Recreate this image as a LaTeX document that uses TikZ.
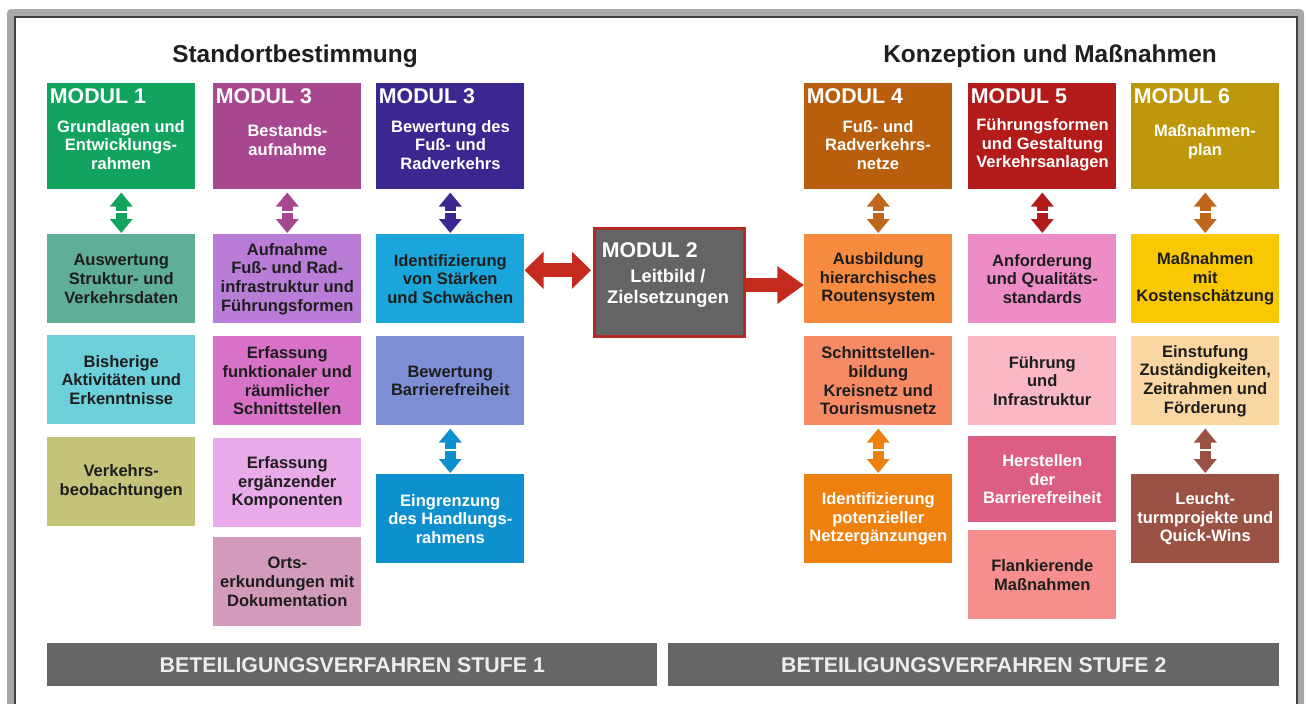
\documentclass[tikz,border=0pt]{standalone}
\usepackage{fontspec}
\setmainfont{Liberation Sans}
\usetikzlibrary{arrows.meta,calc}

\definecolor{ink}{HTML}{1E1E1E}
\definecolor{frameg}{HTML}{A8A8A8}
\definecolor{framed}{HTML}{404040}
\definecolor{barg}{HTML}{666666}
\definecolor{arrowred}{HTML}{C42A1E}
% Standortbestimmung
\definecolor{gTop}{HTML}{12A35F}
\definecolor{gA}{HTML}{5FAE98}
\definecolor{gB}{HTML}{6DD0DA}
\definecolor{gC}{HTML}{C5C27A}
\definecolor{pTop}{HTML}{A7478F}
\definecolor{pA}{HTML}{B97DD8}
\definecolor{pB}{HTML}{D872C8}
\definecolor{pC}{HTML}{E8AAE8}
\definecolor{pD}{HTML}{D29BBB}
\definecolor{vTop}{HTML}{3C2690}
\definecolor{vA}{HTML}{1AA6DA}
\definecolor{vB}{HTML}{7E8ED4}
\definecolor{vC}{HTML}{0F90CE}
% Konzeption und Massnahmen
\definecolor{mTwo}{HTML}{646464}
\definecolor{mTwoRim}{HTML}{B22A20}
\definecolor{oTop}{HTML}{B85E0C}
\definecolor{oA}{HTML}{F68A3E}
\definecolor{oB}{HTML}{F58A64}
\definecolor{oC}{HTML}{EE8010}
\definecolor{rTop}{HTML}{B31B1B}
\definecolor{rA}{HTML}{EE8CC6}
\definecolor{rB}{HTML}{FAB8C6}
\definecolor{rC}{HTML}{DC5E82}
\definecolor{rD}{HTML}{F68E8E}
\definecolor{yTop}{HTML}{BC980A}
\definecolor{yA}{HTML}{F9C802}
\definecolor{yB}{HTML}{FAD7A2}
\definecolor{yC}{HTML}{9A5244}
\definecolor{oLink}{HTML}{C0661A}

\begin{document}
\begin{tikzpicture}[x=0.75pt, y=-0.75pt,
box/.style={anchor=north west, minimum width=111pt, minimum height=66.75pt, inner sep=0pt, align=center, text=ink, font=\fontsize{12.4}{14}\selectfont\bfseries},
top/.style={box, minimum height=79.5pt},
modl/.style={anchor=north west, inner sep=0pt, text=white, font=\fontsize{16}{18}\selectfont\bfseries},
desc/.style={inner sep=0pt, align=center, text=white, font=\fontsize{12.4}{14}\selectfont\bfseries},
head/.style={anchor=base, inner sep=0pt, text=ink, font=\fontsize{18.3}{20}\selectfont\bfseries},
bar/.style={anchor=north west, minimum height=32.25pt, inner sep=0pt, fill=barg, text=white!93!black, font=\fontsize{16}{18}\selectfont\bfseries},
vlink/.style={line width=8.5pt, {Triangle[length=10.5pt,width=16.5pt]}-{Triangle[length=10.5pt,width=16.5pt]}, shorten <=2.25pt, shorten >=0.75pt},
cut/.style={white, line width=1.2pt},
bigarr/.style={draw=arrowred, line width=10.5pt}]
\useasboundingbox (0,0) rectangle (1306,703);
\clip (0,0) rectangle (1306,703);
% frame
\fill[frameg, rounded corners=3pt] (7,9) rectangle (1304,760);
\fill[white] (14,16) rectangle (1298,760);
\draw[framed, line width=0.9pt] (15,17) rectangle (1297,760);

\node[head] (t1) at (295,62) {Standortbestimmung};
\node[head] (t2) at (1050,62) {Konzeption und Maßnahmen};

% Modul 1
\node[top, fill=gTop] (m1) at (47,83) {};
\node[modl] (m1l) at ([shift={(2pt,-3.75pt)}]m1.north west) {MODUL 1};
\node[desc] (m1d) at (121,145) {Grundlagen und\\Entwicklungs-\\rahmen};
\node[box, fill=gA] (a1) at (47,234) {Auswertung\\Struktur- und\\Verkehrsdaten};
\node[box, fill=gB] (b1) at (47,335) {Bisherige\\Aktivitäten und\\Erkenntnisse};
\node[box, fill=gC] (c1) at (47,437) {Verkehrs-\\beobachtungen};

% Modul 3 (Bestand)
\node[top, fill=pTop] (m3) at (213,83) {};
\node[modl] (m3l) at ([shift={(2pt,-3.75pt)}]m3.north west) {MODUL 3};
\node[desc] (m3d) at (287.5,140) {Bestands-\\aufnahme};
\node[box, fill=pA] (a2) at (213,234) {Aufnahme\\Fuß- und Rad-\\infrastruktur und\\Führungsformen};
\node[box, fill=pB] (b2) at (213,336) {Erfassung\\funktionaler und\\räumlicher\\Schnittstellen};
\node[box, fill=pC] (c2) at (213,438) {Erfassung\\ergänzender\\Komponenten};
\node[box, fill=pD] (d2) at (213,537) {Orts-\\erkundungen mit\\Dokumentation};

% Modul 3 (Bewertung)
\node[top, fill=vTop] (n3) at (376,83) {};
\node[modl] (n3l) at ([shift={(2pt,-3.75pt)}]n3.north west) {MODUL 3};
\node[desc] (n3d) at (450.5,145) {Bewertung des\\Fuß- und\\Radverkehrs};
\node[box, fill=vA] (a3) at (376,234) {Identifizierung\\von Stärken\\und Schwächen};
\node[box, fill=vB] (b3) at (376,336) {Bewertung\\Barrierefreiheit};
\node[box, fill=vC, text=white] (c3) at (376,474) {Eingrenzung\\des Handlungs-\\rahmens};

% Modul 2
\node[draw=mTwoRim, line width=2.25pt, fill=mTwo, minimum width=112.5pt, minimum height=81pt, inner sep=0pt] (m2) at (669.5,282.5) {};
\node[modl] (m2l) at ([shift={(6.4pt,-11.25pt)}]m2.north west) {MODUL 2};
\node[desc, font=\fontsize{13.7}{15.75}\selectfont\bfseries] (m2d) at (668,288) {Leitbild /\\Zielsetzungen};

% Modul 4
\node[top, fill=oTop] (m4) at (804,83) {};
\node[modl] (m4l) at ([shift={(2pt,-3.75pt)}]m4.north west) {MODUL 4};
\node[desc] (m4d) at (878,145) {Fuß- und\\Radverkehrs-\\netze};
\node[box, fill=oA] (a4) at (804,234) {Ausbildung\\hierarchisches\\Routensystem};
\node[box, fill=oB] (b4) at (804,336) {Schnittstellen-\\bildung\\Kreisnetz und\\Tourismusnetz};
\node[box, fill=oC, text=white] (c4) at (804,474) {Identifizierung\\potenzieller\\Netzergänzungen};

% Modul 5
\node[top, fill=rTop] (m5) at (968,83) {};
\node[modl] (m5l) at ([shift={(2pt,-3.75pt)}]m5.north west) {MODUL 5};
\node[desc] (m5d) at (1042.5,145) {Führungsformen\\und Gestaltung\\Verkehrsanlagen};
\node[box, fill=rA] (a5) at (968,234) {Anforderung\\und Qualitäts-\\standards};
\node[box, fill=rB] (b5) at (968,336) {Führung\\und\\Infrastruktur};
\node[box, fill=rC, text=white, minimum height=64.5pt] (c5) at (968,436) {Herstellen\\der\\Barrierefreiheit};
\node[box, fill=rD] (d5) at (968,530) {Flankierende\\Maßnahmen};

% Modul 6
\node[top, fill=yTop] (m6) at (1131,83) {};
\node[modl] (m6l) at ([shift={(2pt,-3.75pt)}]m6.north west) {MODUL 6};
\node[desc] (m6d) at (1205,142) {Maßnahmen-\\plan};
\node[box, fill=yA] (a6) at (1131,234) {Maßnahmen\\mit\\Kostenschätzung};
\node[box, fill=yB] (b6) at (1131,336) {Einstufung\\Zuständigkeiten,\\Zeitrahmen und\\Förderung};
\node[box, fill=yC, text=white] (c6) at (1131,474) {Leucht-\\turmprojekte und\\Quick-Wins};

% Beteiligung
\node[bar, minimum width=457.5pt] (s1) at (47,643) {BETEILIGUNGSVERFAHREN STUFE 1};
\node[bar, minimum width=458.25pt] (s2) at (668,643) {BETEILIGUNGSVERFAHREN STUFE 2};

% links
\foreach \u/\v/\c in {m1/a1/gTop, m3/a2/pTop, n3/a3/vTop, b3/c3/vC, m4/a4/oLink, m5/a5/rTop, m6/a6/oLink, b4/c4/oC, b6/c6/yC} {
  \draw[vlink, draw=\c] (\u) -- coordinate (mid) (\v);
  \draw[cut] ([xshift=-6.5pt]mid) -- ([xshift=6.5pt]mid);
}
\draw[bigarr, {Triangle[length=14.25pt,width=27pt]}-{Triangle[length=14.25pt,width=27pt]}, shorten >=1.5pt] ([yshift=6.4pt]a3.east) -- ([yshift=6.4pt]a3.east -| m2.west);
\draw[bigarr, -{Triangle[length=20pt,width=27pt]}] ([yshift=-1.9pt]m2.east) -- ([yshift=-1.9pt]m2.east -| a4.west);
\end{tikzpicture}
\end{document}
